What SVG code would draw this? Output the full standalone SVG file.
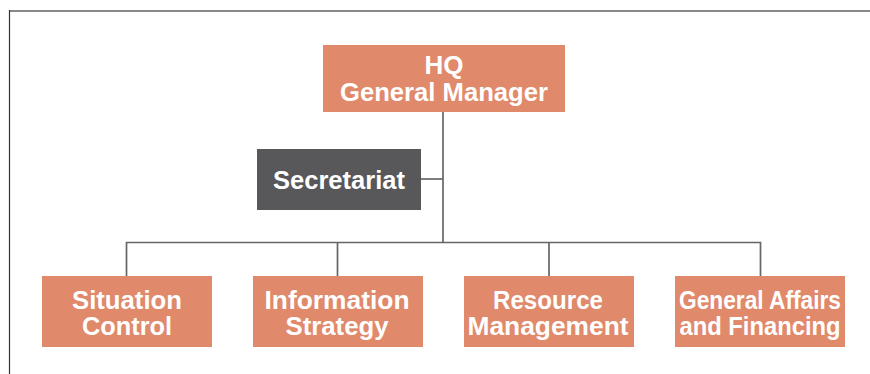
<svg xmlns="http://www.w3.org/2000/svg" width="870" height="374" viewBox="0 0 870 374">
<style>
.box{fill:#E0896B}
.dark{fill:#58585A}
.t{font-family:"Liberation Sans",Arial,sans-serif;font-weight:bold;font-size:25px;fill:#fff;text-anchor:middle}
.ln{stroke:#666;stroke-width:1.7;fill:none}
</style>
<rect width="870" height="374" fill="#fff"/>
<g id="frame">
<line x1="9" y1="11" x2="870" y2="11" stroke="#888" stroke-width="2"/>
<line x1="9.5" y1="10" x2="9.5" y2="374" stroke="#333" stroke-width="1.2"/>
</g>
<g id="connectors">
<line class="ln" x1="443" y1="112" x2="443" y2="243"/>
<line class="ln" x1="421" y1="179" x2="443" y2="179"/>
<polyline class="ln" points="126.5,276 126.5,242.5 760.5,242.5 760.5,276"/>
<line class="ln" x1="337.5" y1="242.5" x2="337.5" y2="276"/>
<line class="ln" x1="549" y1="242.5" x2="549" y2="276"/>
</g>
<g id="hq">
<rect class="box" x="323" y="45" width="242" height="67"/>
<text class="t" x="444" y="74" textLength="39" lengthAdjust="spacingAndGlyphs">HQ</text>
<text class="t" x="444" y="101" textLength="208" lengthAdjust="spacingAndGlyphs">General Manager</text>
</g>
<g id="secretariat">
<rect class="dark" x="257" y="149" width="164" height="61"/>
<text class="t" x="339" y="189" textLength="132" lengthAdjust="spacingAndGlyphs">Secretariat</text>
</g>
<g id="situation">
<rect class="box" x="42" y="276" width="170" height="71"/>
<text class="t" x="127" y="309" textLength="110" lengthAdjust="spacingAndGlyphs">Situation</text>
<text class="t" x="127" y="335" textLength="90" lengthAdjust="spacingAndGlyphs">Control</text>
</g>
<g id="information">
<rect class="box" x="253" y="276" width="170" height="71"/>
<text class="t" x="337" y="309" textLength="145" lengthAdjust="spacingAndGlyphs">Information</text>
<text class="t" x="337" y="335" textLength="103" lengthAdjust="spacingAndGlyphs">Strategy</text>
</g>
<g id="resource">
<rect class="box" x="464" y="276" width="170" height="71"/>
<text class="t" x="548" y="309" textLength="110" lengthAdjust="spacingAndGlyphs">Resource</text>
<text class="t" x="548" y="335" textLength="161" lengthAdjust="spacingAndGlyphs">Management</text>
</g>
<g id="general">
<rect class="box" x="675" y="276" width="170" height="71"/>
<text class="t" x="760" y="309" textLength="162" lengthAdjust="spacingAndGlyphs">General Affairs</text>
<text class="t" x="760" y="335" textLength="161" lengthAdjust="spacingAndGlyphs">and Financing</text>
</g>
</svg>
